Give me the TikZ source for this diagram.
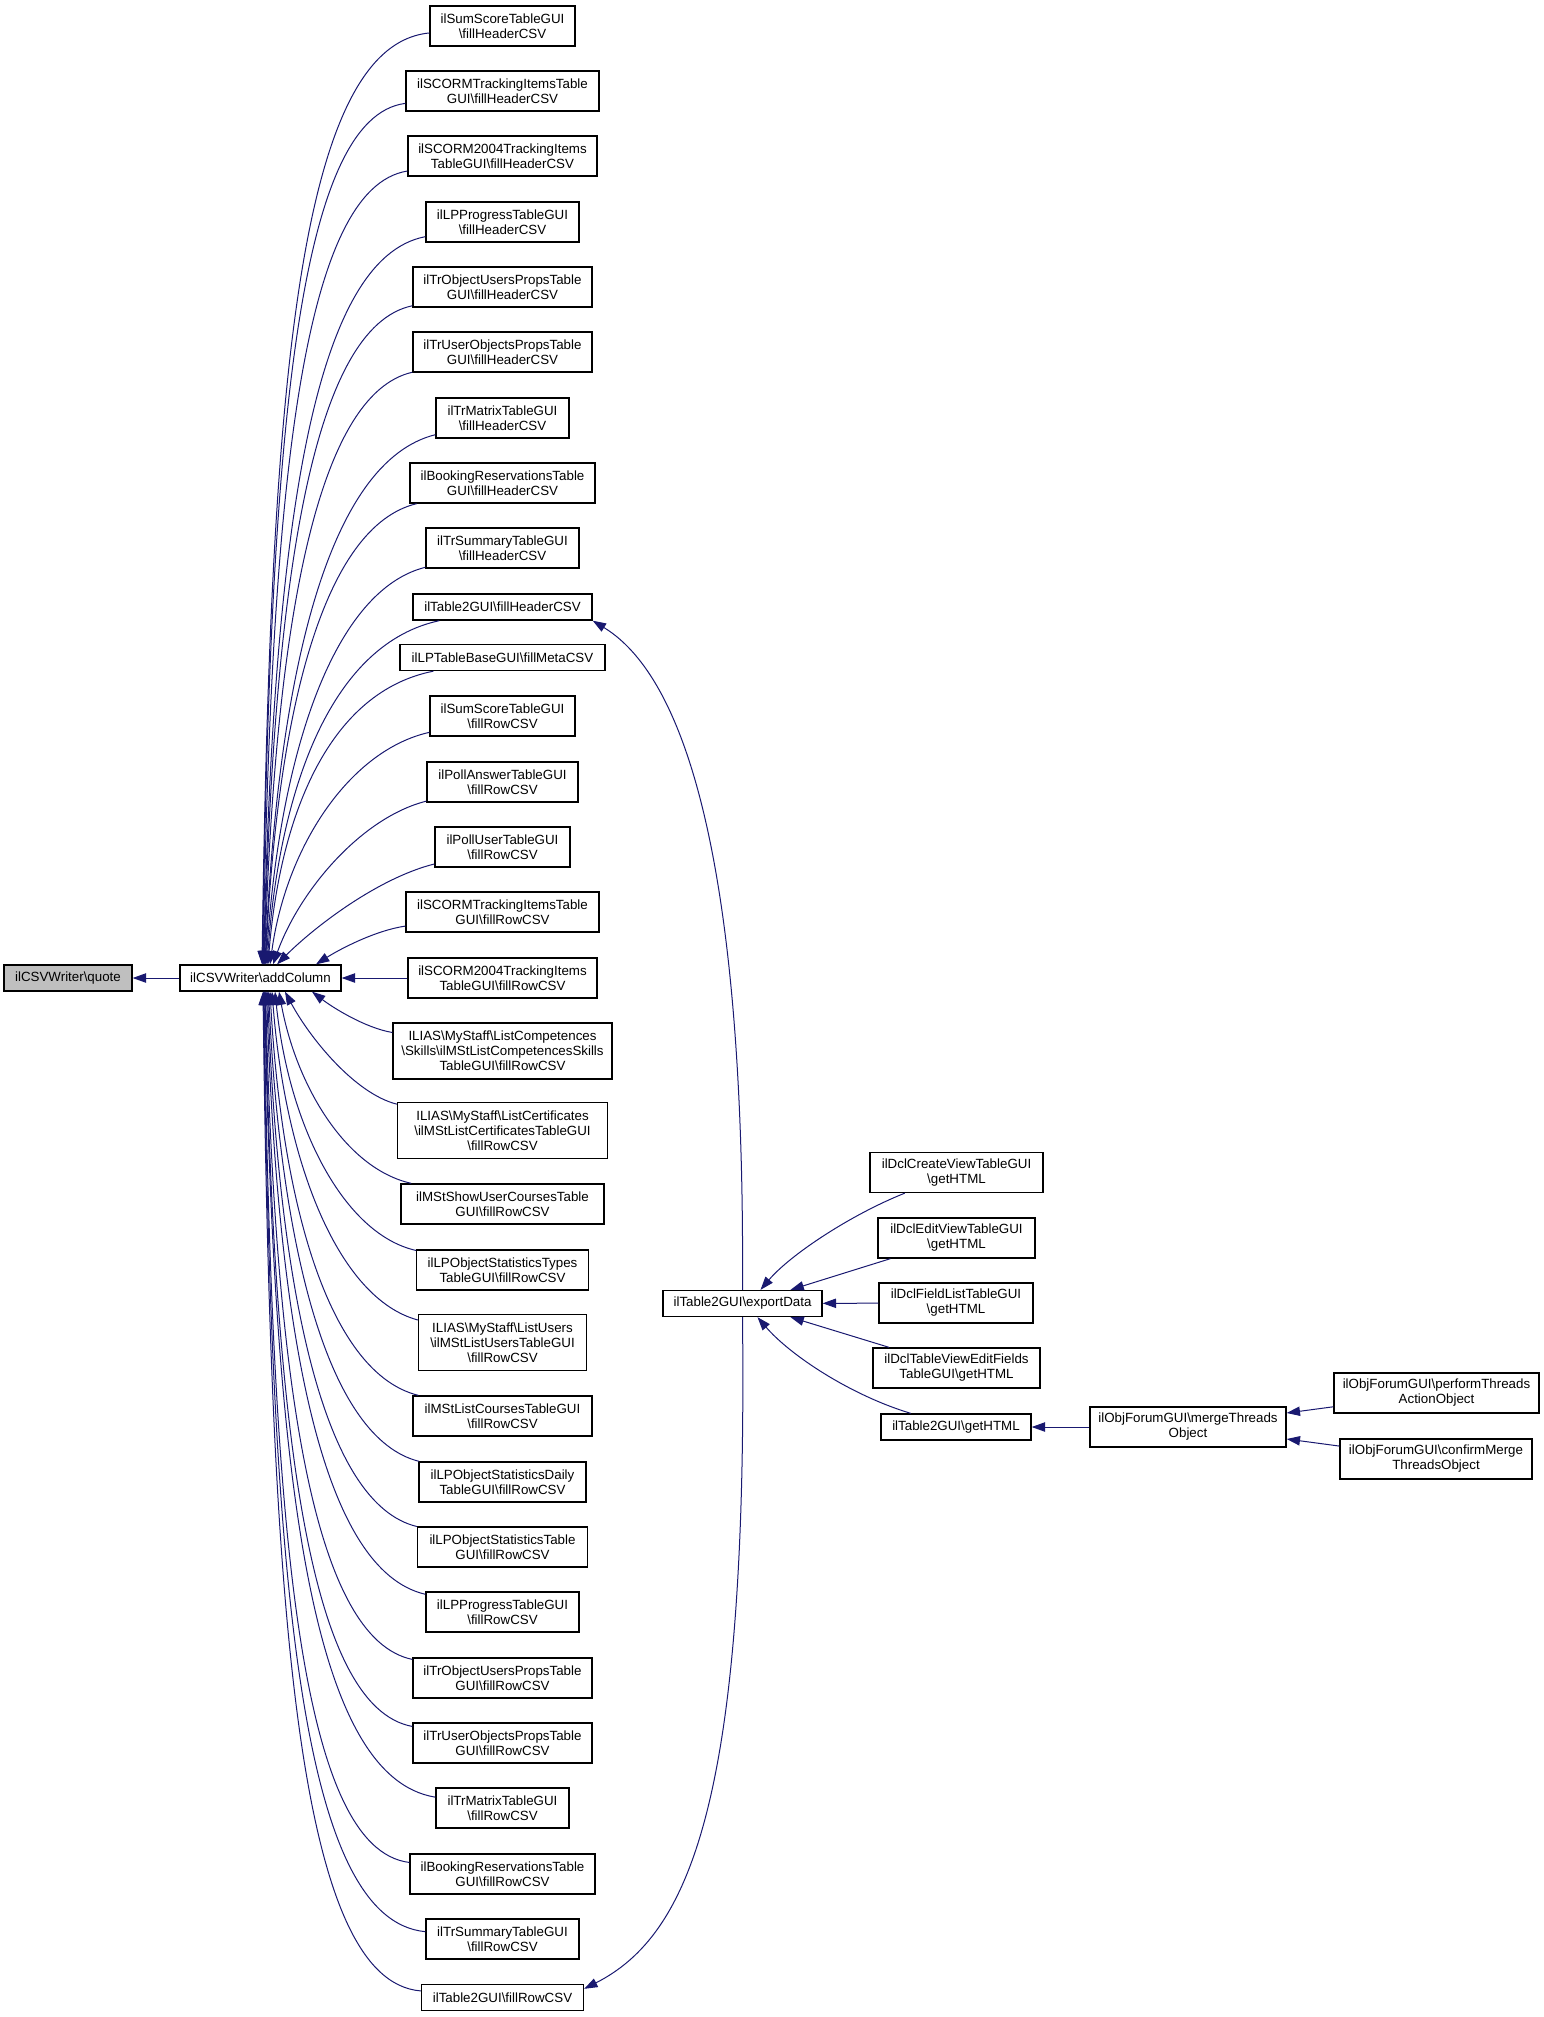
\documentclass[tikz,border=0pt]{standalone}
\usepackage{fontspec}
\setmainfont{Liberation Sans}
\usetikzlibrary{arrows.meta,calc}
\definecolor{edgeblue}{RGB}{25,25,112}
\definecolor{qgray}{RGB}{191,191,191}
\newcommand{\bs}{\textbackslash}
\begin{document}
\begin{tikzpicture}[x=0.75pt,y=-0.75pt,
  box/.style 2 args={draw=black, line width=1pt, rectangle, inner sep=0pt, align=center,
    minimum width={#1*0.75pt}, minimum height={#2*0.75pt},
    font=\fontsize{10pt}{11.25pt}\selectfont},
  edge/.style={draw=edgeblue, line width=0.75pt, -{Triangle[length=10pt,width=7pt]}}]
\useasboundingbox (0,0) rectangle (1544,2017);

% main nodes
\node[box={128}{26}, fill=qgray] (quote) at (68,978) {ilCSVWriter\bs quote};
\node[box={161}{26}] (add) at (260.5,978) {ilCSVWriter\bs addColumn};

% callers above
\node[box={145}{40}] (h1) at (502.5,26) {ilSumScoreTableGUI\\\bs fillHeaderCSV};
\node[box={193}{40}] (h2) at (502.5,91) {ilSCORMTrackingItemsTable\\GUI\bs fillHeaderCSV};
\node[box={189}{40}] (h3) at (502.5,156) {ilSCORM2004TrackingItems\\TableGUI\bs fillHeaderCSV};
\node[box={153}{40}] (h4) at (502.5,222) {ilLPProgressTableGUI\\\bs fillHeaderCSV};
\node[box={179}{40}] (h5) at (502.5,287) {ilTrObjectUsersPropsTable\\GUI\bs fillHeaderCSV};
\node[box={179}{40}] (h6) at (502.5,352) {ilTrUserObjectsPropsTable\\GUI\bs fillHeaderCSV};
\node[box={133}{40}] (h7) at (502.5,418) {ilTrMatrixTableGUI\\\bs fillHeaderCSV};
\node[box={185}{40}] (h8) at (502.5,483) {ilBookingReservationsTable\\GUI\bs fillHeaderCSV};
\node[box={153}{40}] (h9) at (502.5,548) {ilTrSummaryTableGUI\\\bs fillHeaderCSV};
\node[box={179}{26}] (h10) at (502.5,607) {ilTable2GUI\bs fillHeaderCSV};
\node[box={205}{26}] (m) at (502.5,657.5) {ilLPTableBaseGUI\bs fillMetaCSV};
\node[box={145}{40}] (r1) at (502.5,716) {ilSumScoreTableGUI\\\bs fillRowCSV};
\node[box={151}{40}] (r2) at (502.5,782) {ilPollAnswerTableGUI\\\bs fillRowCSV};
\node[box={135}{40}] (r3) at (502.5,847) {ilPollUserTableGUI\\\bs fillRowCSV};
\node[box={193}{40}] (r4) at (502.5,912) {ilSCORMTrackingItemsTable\\GUI\bs fillRowCSV};
\node[box={189}{40}] (r5) at (502.5,978) {ilSCORM2004TrackingItems\\TableGUI\bs fillRowCSV};
% callers below
\node[box={219}{56}] (r6) at (502.5,1051) {ILIAS\bs MyStaff\bs ListCompetences\\\bs Skills\bs ilMStListCompetencesSkills\\TableGUI\bs fillRowCSV};
\node[box={210}{56}] (r7) at (502.5,1130.5) {ILIAS\bs MyStaff\bs ListCertificates\\\bs ilMStListCertificatesTableGUI\\\bs fillRowCSV};
\node[box={203}{40}] (r8) at (502.5,1204) {ilMStShowUserCoursesTable\\GUI\bs fillRowCSV};
\node[box={172}{40}] (r9) at (502.5,1270) {ilLPObjectStatisticsTypes\\TableGUI\bs fillRowCSV};
\node[box={168}{56}] (r10) at (502.5,1342.5) {ILIAS\bs MyStaff\bs ListUsers\\\bs ilMStListUsersTableGUI\\\bs fillRowCSV};
\node[box={179}{40}] (r11) at (502.5,1416) {ilMStListCoursesTableGUI\\\bs fillRowCSV};
\node[box={167}{40}] (r12) at (502.5,1482) {ilLPObjectStatisticsDaily\\TableGUI\bs fillRowCSV};
\node[box={170}{40}] (r13) at (502.5,1547) {ilLPObjectStatisticsTable\\GUI\bs fillRowCSV};
\node[box={153}{40}] (r14) at (502.5,1612) {ilLPProgressTableGUI\\\bs fillRowCSV};
\node[box={179}{40}] (r15) at (502.5,1678) {ilTrObjectUsersPropsTable\\GUI\bs fillRowCSV};
\node[box={179}{40}] (r16) at (502.5,1743) {ilTrUserObjectsPropsTable\\GUI\bs fillRowCSV};
\node[box={133}{40}] (r17) at (502.5,1808) {ilTrMatrixTableGUI\\\bs fillRowCSV};
\node[box={185}{40}] (r18) at (502.5,1874) {ilBookingReservationsTable\\GUI\bs fillRowCSV};
\node[box={153}{40}] (r19) at (502.5,1939) {ilTrSummaryTableGUI\\\bs fillRowCSV};
\node[box={162}{26}] (r20) at (502.5,1997.5) {ilTable2GUI\bs fillRowCSV};

% right part
\node[box={159}{26}] (exd) at (742.5,1303.5) {ilTable2GUI\bs exportData};
\node[box={173}{40}] (cv) at (956.5,1172.5) {ilDclCreateViewTableGUI\\\bs getHTML};
\node[box={157}{40}] (ev) at (956.5,1238) {ilDclEditViewTableGUI\\\bs getHTML};
\node[box={154}{40}] (fl) at (956,1303) {ilDclFieldListTableGUI\\\bs getHTML};
\node[box={167}{40}] (tv) at (956.5,1368) {ilDclTableViewEditFields\\TableGUI\bs getHTML};
\node[box={150}{26}] (gh) at (956,1427) {ilTable2GUI\bs getHTML};
\node[box={196}{40}] (mt) at (1188,1427) {ilObjForumGUI\bs mergeThreads\\Object};
\node[box={205}{40}] (pt) at (1436.5,1393) {ilObjForumGUI\bs performThreads\\ActionObject};
\node[box={192}{40}] (cm) at (1436,1459) {ilObjForumGUI\bs confirmMerge\\ThreadsObject};

% edges into addColumn from above
\foreach \n/\cx/\cy/\hw/\hh/\ex in {
  h1/502.5/26/72.5/20/262, h2/502.5/91/96.5/20/262.5, h3/502.5/156/94.5/20/263,
  h4/502.5/222/76.5/20/263.5, h5/502.5/287/89.5/20/264, h6/502.5/352/89.5/20/264.5,
  h7/502.5/418/66.5/20/265, h8/502.5/483/92.5/20/265.5, h9/502.5/548/76.5/20/266,
  h10/502.5/607/89.5/13/267, m/502.5/657.5/102.5/12.5/268, r1/502.5/716/72.5/20/270,
  r2/502.5/782/75.5/20/273, r3/502.5/847/67.5/20/277, r4/502.5/912/96.5/20/316}{
  \pgfmathsetmacro\Sx{\cx-\hw}
  \pgfmathsetmacro\Sy{\cy+0.5*\hh}
  \pgfmathsetmacro\wW{\Sx-\ex}
  \pgfmathsetmacro\hH{965-\Sy}
  \pgfmathsetmacro\eg{min(max((\hH-100)/140,0),1)}
  \pgfmathsetmacro\ef{min(max((\hH-240)/690,0),1)}
  \pgfmathsetmacro\ax{\Sx-\wW*(0.35+0.15*\eg+0.28*\ef)}
  \pgfmathsetmacro\ay{\Sy+\hH*(0.2-0.1*\eg-0.09*\ef)}
  \pgfmathsetmacro\bx{\ex+\wW*(0.25-0.15*\eg-0.05*\ef)}
  \pgfmathsetmacro\by{965-\hH*(0.35+0.15*\eg+0.13*\ef)}
  \pgfmathsetmacro\dx{\ex-260.5}
  \draw[edge] (\n) .. controls (\ax,\ay) and (\bx,\by) .. ($(add.north)+(\dx,0)$);
}

% edges into addColumn from below
\foreach \n/\cx/\cy/\hw/\hh/\ex in {
  r6/502.5/1051/109.5/28/312, r7/502.5/1130.5/105/28/285, r8/502.5/1204/101.5/20/279,
  r9/502.5/1270/86/20/275, r10/502.5/1342.5/84/28/272, r11/502.5/1416/89.5/20/270,
  r12/502.5/1482/83.5/20/268.5, r13/502.5/1547/85/20/267.5, r14/502.5/1612/76.5/20/266.5,
  r15/502.5/1678/89.5/20/265.5, r16/502.5/1743/89.5/20/265, r17/502.5/1808/66.5/20/264.5,
  r18/502.5/1874/92.5/20/264, r19/502.5/1939/76.5/20/263.5, r20/502.5/1997.5/81/13/263}{
  \pgfmathsetmacro\Sx{\cx-\hw}
  \pgfmathsetmacro\Sy{\cy-0.5*\hh}
  \pgfmathsetmacro\wW{\Sx-\ex}
  \pgfmathsetmacro\hH{\Sy-991}
  \pgfmathsetmacro\eg{min(max((\hH-100)/140,0),1)}
  \pgfmathsetmacro\ef{min(max((\hH-240)/690,0),1)}
  \pgfmathsetmacro\ax{\Sx-\wW*(0.35+0.15*\eg+0.28*\ef)}
  \pgfmathsetmacro\ay{\Sy-\hH*(0.2-0.1*\eg-0.09*\ef)}
  \pgfmathsetmacro\bx{\ex+\wW*(0.25-0.15*\eg-0.05*\ef)}
  \pgfmathsetmacro\by{991+\hH*(0.35+0.15*\eg+0.13*\ef)}
  \pgfmathsetmacro\dx{\ex-260.5}
  \draw[edge] (\n) .. controls (\ax,\ay) and (\bx,\by) .. ($(add.south)+(\dx,0)$);
}

% straight edges
\draw[edge] (r5) -- (add);
\draw[edge] (add) -- (quote);

% exportData to Table2GUI callees
\draw[edge] (exd.north) .. controls (745,880) and (690,680) .. (h10.south east);
\draw[edge] (exd.south) .. controls (748,1800) and (690,1935) .. ($(r20.north east)+(0,5)$);

% getHTML callers to exportData
\draw[edge] (cv) .. controls (850,1215) and (790,1255) .. ($(exd.north)+(18,0)$);
\draw[edge] (ev) -- ($(exd.north)+(48,0)$);
\draw[edge] (fl) -- (exd);
\draw[edge] (tv) -- ($(exd.south)+(48,0)$);
\draw[edge] (gh) .. controls (850,1395) and (790,1355) .. ($(exd.south)+(15,0)$);

% forum chain
\draw[edge] (mt) -- (gh);
\draw[edge] (pt) -- ($(mt.east)+(0,-14)$);
\draw[edge] (cm) -- ($(mt.east)+(0,12)$);
\end{tikzpicture}
\end{document}
